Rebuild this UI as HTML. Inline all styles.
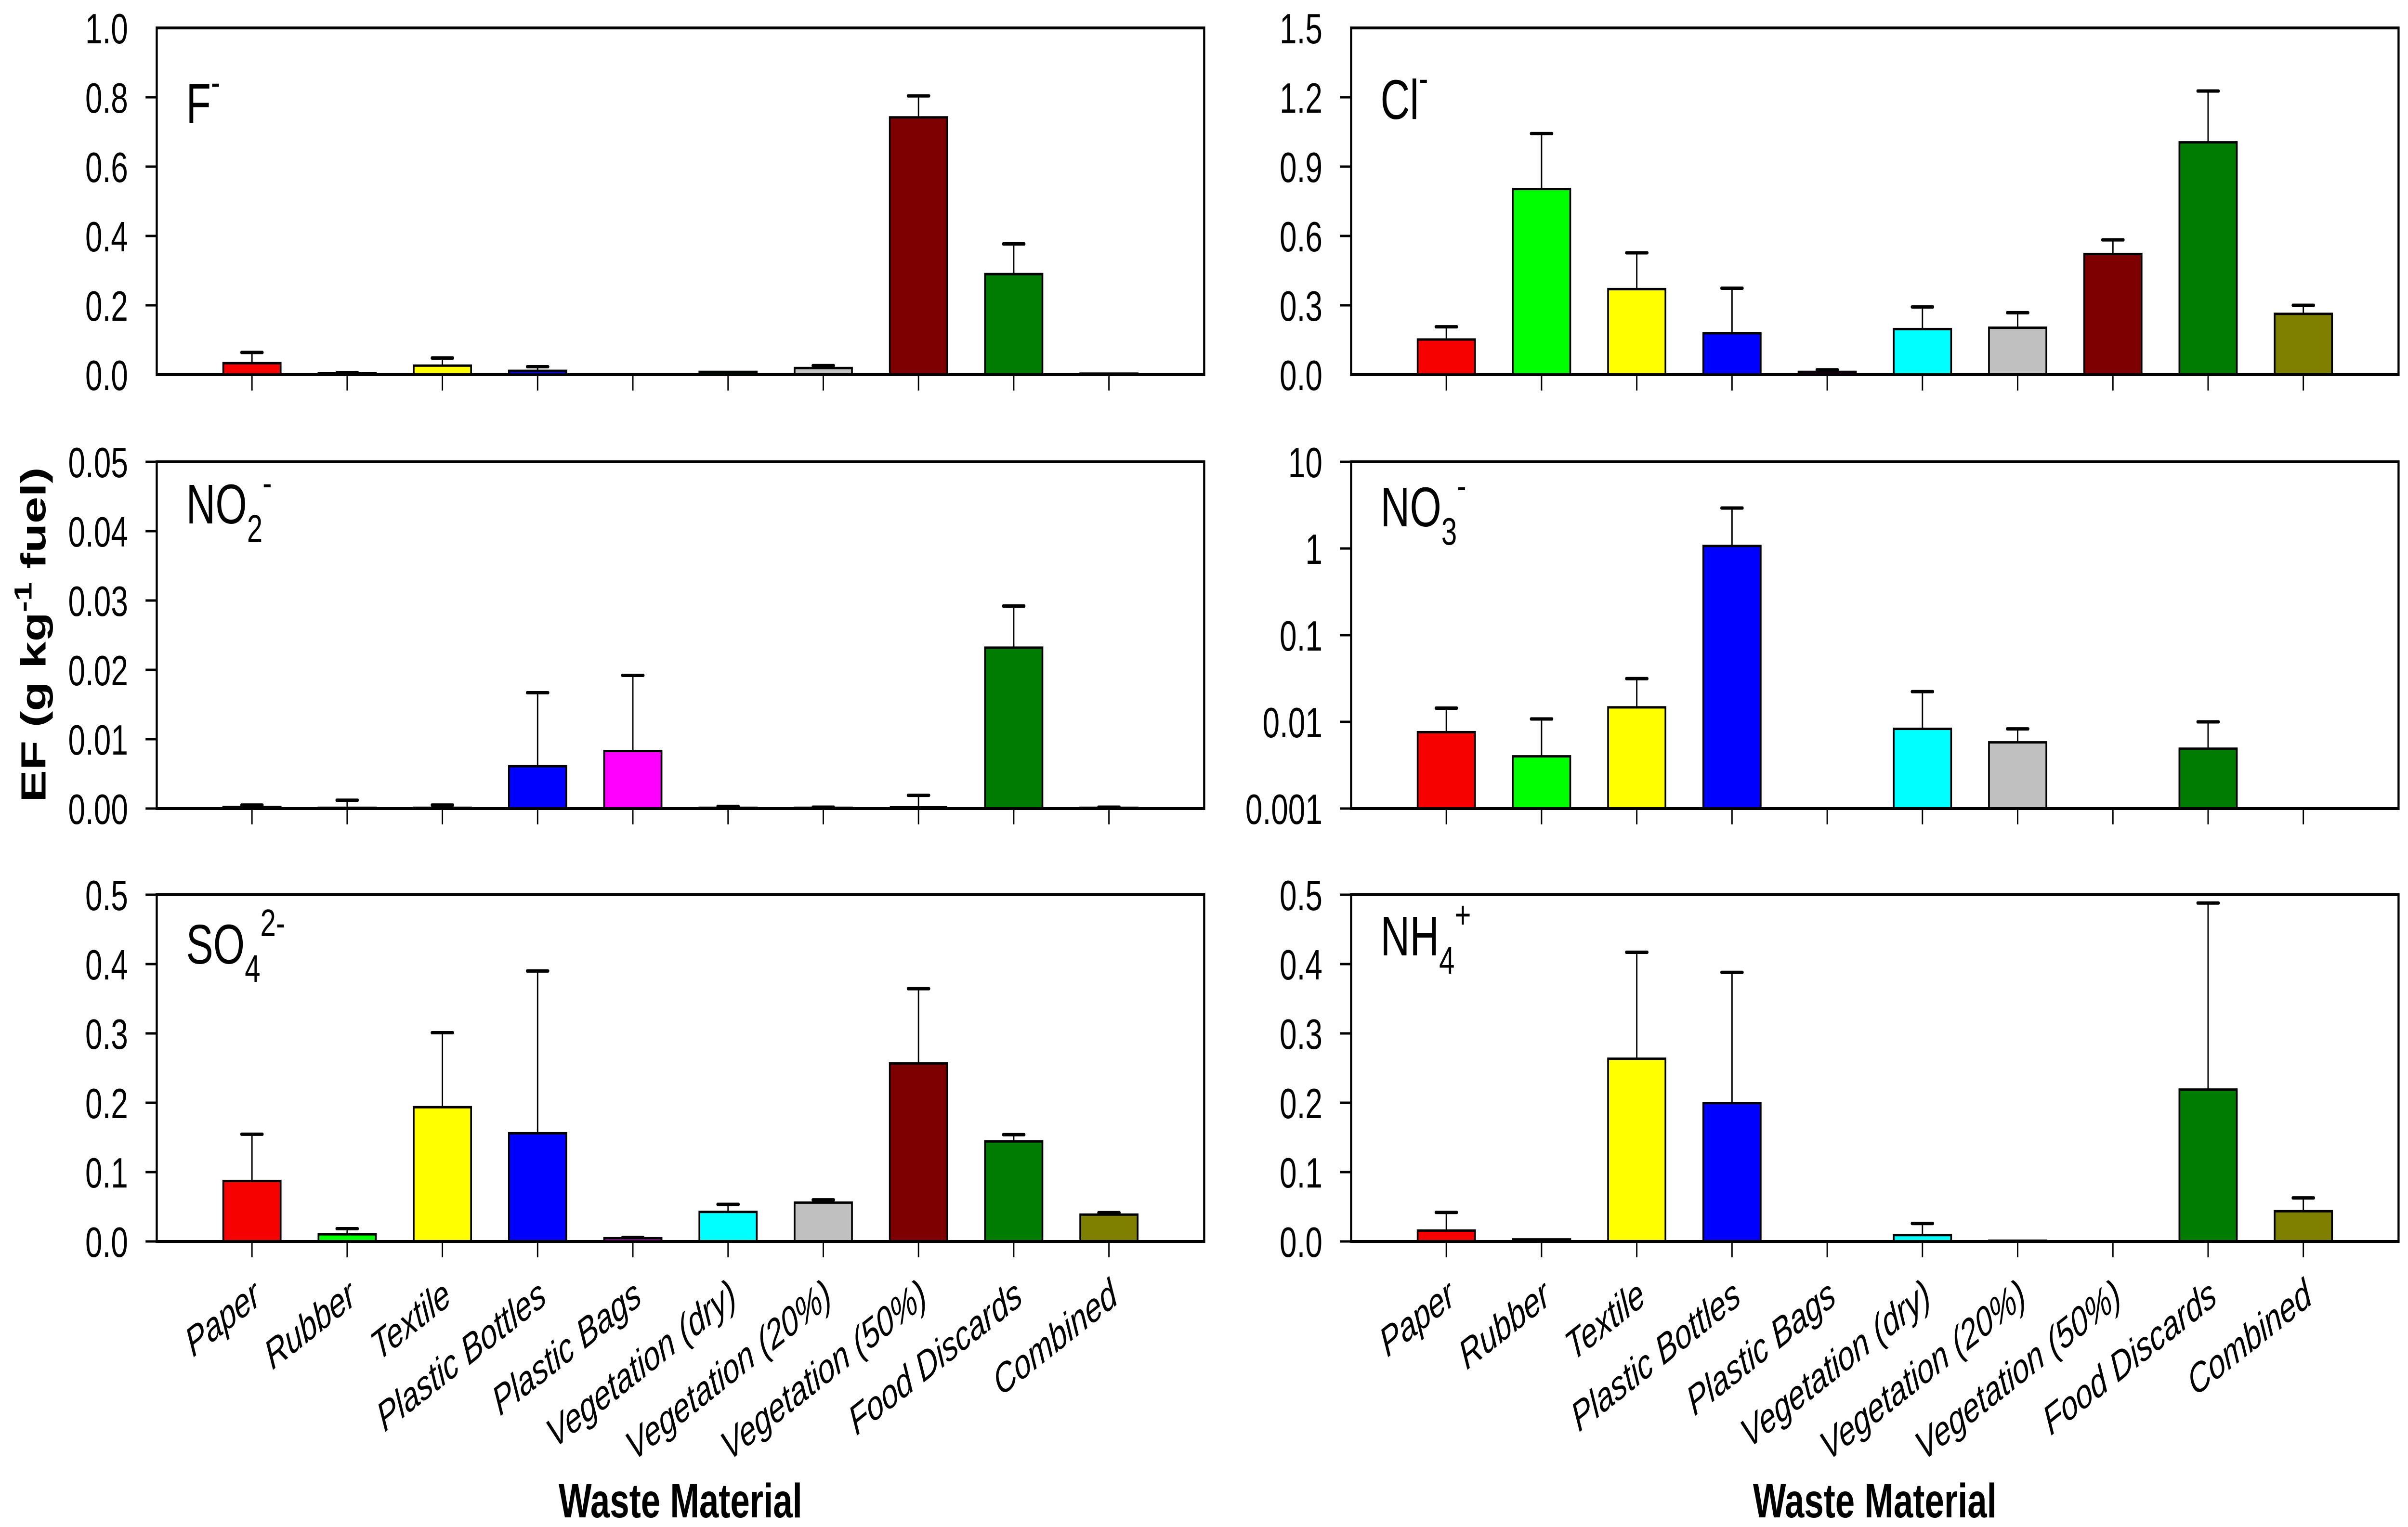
<!DOCTYPE html>
<html><head><meta charset="utf-8"><style>
html,body{margin:0;padding:0;background:#fff;overflow:hidden;width:100%;height:100%;}
svg{display:block;width:100vw;height:100vh;font-family:"Liberation Sans",Arial,sans-serif;}
</style></head><body>
<svg id="chart" xmlns="http://www.w3.org/2000/svg" viewBox="0 0 6883 3171" preserveAspectRatio="none"></svg>
<script>
const categories = ['Paper','Rubber','Textile','Plastic Bottles','Plastic Bags','Vegetation (dry)','Vegetation (20%)','Vegetation (50%)','Food Discards','Combined'];
const barColors = ['#f70000','#00ff00','#ffff00','#0000ff','#ff00ff','#00ffff','#c0c0c0','#7f0000','#007c00','#808000'];
const fValues = [0.033,0.004,0.026,0.011,null,0.008,0.019,0.742,0.290,0.003];
const fErrors = [0.031,0.002,0.022,0.012,null,null,0.007,0.062,0.087,null];
const clValues = [0.152,0.803,0.370,0.179,0.012,0.197,0.203,0.522,1.005,0.263];
const clErrors = [0.055,0.240,0.157,0.195,0.009,0.096,0.065,0.061,0.222,0.037];
const no2Values = [0.0002,0.0001,0.0001,0.0061,0.0083,0.0001,0.0001,0,0.0232,0.0001];
const no2Errors = [0.0003,0.0011,0.0004,0.0106,0.0109,0.0002,0.0001,0.0019,0.0060,0.0001];
const no3Values = [0.0076,0.0040,0.0147,1.07,null,0.0083,0.0058,null,0.0049,null];
const no3Errors = [0.0068,0.0068,0.0168,1.86,null,0.0140,0.0025,null,0.0051,null];
const so4Values = [0.0872,0.0103,0.1936,0.156,0.0046,0.0426,0.056,0.2567,0.1443,0.0387];
const so4Errors = [0.0674,0.0081,0.1074,0.234,0.001,0.0109,0.004,0.1078,0.0097,0.0028];
const nh4Values = [0.0156,0.003,0.2635,0.1996,null,0.0092,0.001,null,0.219,0.0436];
const nh4Errors = [0.0262,null,0.1535,0.1884,null,0.0167,null,null,0.269,0.0192];
const fTicks = ['0.0','0.2','0.4','0.6','0.8','1.0'];
const clTicks = ['0.0','0.3','0.6','0.9','1.2','1.5'];
const no2Ticks = ['0.00','0.01','0.02','0.03','0.04','0.05'];
const no3Ticks = ['0.001','0.01','0.1','1','10'];
const so4Ticks = ['0.0','0.1','0.2','0.3','0.4','0.5'];
const nh4Ticks = ['0.0','0.1','0.2','0.3','0.4','0.5'];

const NS='http://www.w3.org/2000/svg';
const svg=document.getElementById('chart');
function mk(tag,attrs,parent){const e=document.createElementNS(NS,tag);for(const k in attrs)e.setAttribute(k,attrs[k]);(parent||svg).appendChild(e);return e;}

const W=2994, H=720, BW=164;
const panels=[
 {id:'fluoride',x:448,y:58,vals:fValues,errs:fErrors,ticks:fTicks,log:false,edgeTicks:false,label:['F','','-'],ly:197},
 {id:'chloride',x:3862,y:58,vals:clValues,errs:clErrors,ticks:clTicks,log:false,edgeTicks:false,label:['Cl','','-'],ly:189},
 {id:'nitrite',x:448,y:959,vals:no2Values,errs:no2Errors,ticks:no2Ticks,log:false,edgeTicks:true,label:['NO','2','-'],ly:128},
 {id:'nitrate',x:3862,y:959,vals:no3Values,errs:no3Errors,ticks:no3Ticks,log:true,edgeTicks:true,label:['NO','3','-'],ly:134},
 {id:'sulfate',x:448,y:1858,vals:so4Values,errs:so4Errors,ticks:so4Ticks,log:false,edgeTicks:true,label:['SO','4','2-'],ly:143},
 {id:'ammonium',x:3862,y:1858,vals:nh4Values,errs:nh4Errors,ticks:nh4Ticks,log:false,edgeTicks:true,label:['NH','4','+'],ly:126}
];

panels.forEach((p,pi)=>{
  const g=mk('g',{});
  
  
  const tv=p.ticks.map(Number);
  const lo=tv[0], hi=tv[tv.length-1];
  const yScale=v=>{
    if(p.log){const l=Math.log10(Math.max(v,lo));return p.y+H-(l-Math.log10(lo))/(Math.log10(hi)-Math.log10(lo))*H;}
    return p.y+H-(v-lo)/(hi-lo)*H;
  };
  const xScale=i=>p.x+(i+1)*W/11;
  p.vals.forEach((v,i)=>{
    if(v===null) return;
    const top=yScale(v), base=p.y+H;
    if(v>lo && base-top>0.5){
      const r=mk('rect',{x:xScale(i)-BW/2,y:top,width:BW,height:base-top,fill:barColors[i],stroke:'#000','stroke-width':5},g);
      
      
    } else if(!p.log){
      const r=mk('line',{x1:xScale(i)-BW/2,x2:xScale(i)+BW/2,y1:base-2,y2:base-2,stroke:'#000','stroke-width':6},g);
      
      
    }
    const e=p.errs[i];
    if(e!==null && e!==undefined){
      const ey=yScale(v+e);
      const eg=mk('g',{},g);
      
      
      mk('line',{x1:xScale(i),x2:xScale(i),y1:top,y2:ey,stroke:'#000','stroke-width':4},eg);
      mk('line',{x1:xScale(i)-30,x2:xScale(i)+30,y1:ey,y2:ey,stroke:'#000','stroke-width':7,'stroke-linecap':'round'},eg);
    }
  });
  const fr=mk('rect',{x:p.x,y:p.y,width:W,height:H,fill:'none',stroke:'#000','stroke-width':6},g);
  
  
  p.ticks.forEach((t,k)=>{
    const y=yScale(tv[k]);
    const isEdge=(k===0||k===p.ticks.length-1);
    if(!isEdge||p.edgeTicks) mk('line',{x1:p.x-32,x2:p.x,y1:y,y2:y,stroke:'#000','stroke-width':5},g);
    const tl=mk('text',{x:p.x-82,y:y+32,'font-size':88,'text-anchor':'end',fill:'#000'},g);
    tl.textContent=t;
    
    
  });
  categories.forEach((c,i)=>{
    mk('line',{x1:xScale(i),x2:xScale(i),y1:p.y+H,y2:p.y+H+33,stroke:'#000','stroke-width':4},g);
  });
  const lab=mk('text',{x:p.x+84,y:p.y+p.ly,'font-size':116,fill:'#000'},g);
  
  
  const t1=mk('tspan',{},lab); t1.textContent=p.label[0];
  let dyAcc=0;
  if(p.label[1]){const t2=mk('tspan',{'font-size':80,dy:38},lab);t2.textContent=p.label[1];dyAcc=38;}
  const t3=mk('tspan',{'font-size':80,dy:-57-dyAcc},lab); t3.textContent=p.label[2];
  if(pi>=4){
    categories.forEach((c,i)=>{
      const tx=xScale(i)+30, ty=2705;
      const cl=mk('text',{x:tx,y:ty,'font-size':86,'font-style':'italic','text-anchor':'end',transform:'rotate(-30 '+tx+' '+ty+')',fill:'#000'},g);
      cl.textContent=c;
      
      
    });
    const xt=mk('text',{x:p.x+W/2,y:3151,'font-size':100,'font-weight':'bold','text-anchor':'middle',fill:'#000'},g);
    xt.textContent='Waste Material';
    
    
  }
});
const yt=mk('text',{x:0,y:0,'font-size':100,'font-weight':'bold','text-anchor':'middle',transform:'translate(130 1318) rotate(-90)',fill:'#000'});


const a=mk('tspan',{},yt); a.textContent='EF (g kg';
const b=mk('tspan',{'font-size':70,dy:-40},yt); b.textContent='-1';
const c=mk('tspan',{dy:40},yt); c.textContent=' fuel)';
</script>
</body></html>
